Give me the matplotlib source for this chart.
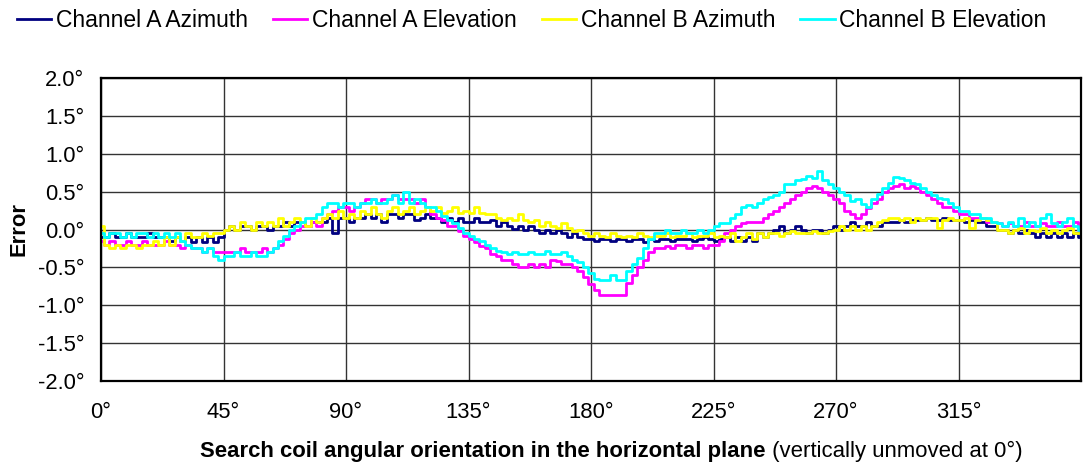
import numpy as np
import matplotlib
matplotlib.use("Agg")
import matplotlib.pyplot as plt

plt.rcParams['font.family'] = ['Liberation Sans', 'DejaVu Sans']

# orientation in degrees, one reading every 2 degrees
angles = np.arange(0, 361, 2)

a_azimuth = [
    -0.1, -0.1, -0.05, -0.1, -0.1, -0.05, -0.1, -0.1, -0.1, -0.05, -0.1, -0.1, -0.1, -0.15, -0.1, -0.15, -0.1, -0.17,
    -0.1, -0.17, -0.1, -0.17, -0.1,
    0.0, 0.05, 0.0, 0.05, 0.05, 0.0, 0.05, 0.05, 0.0,
    0.05, 0.05, 0.1, 0.05, 0.1,
    0.1, 0.05, 0.1, 0.1,
    0.1, 0.15, -0.05, 0.15, 0.15, 0.1, 0.15, 0.15,
    0.2, 0.15, 0.2, 0.1, 0.2, 0.2, 0.15, 0.2, 0.2, 0.12, 0.15, 0.2,
    0.15, 0.15, 0.1, 0.15, 0.1, 0.15, 0.1, 0.1, 0.15, 0.1, 0.1, 0.12, 0.05,
    0.1, 0.05, 0.01, 0.05, 0.0, 0.05, 0.0, -0.05, 0.0, -0.05, 0.0, -0.05, -0.1, -0.05, -0.1,
    -0.12, -0.12, -0.15, -0.12, -0.12, -0.15, -0.12, -0.12,
    -0.15, -0.12, -0.12, -0.17, -0.12, -0.15,
    -0.12, -0.12, -0.15, -0.12, -0.12, -0.12, -0.15, -0.12, -0.1, -0.12, -0.15, -0.12,
    -0.1, -0.15, -0.1, -0.15,
    -0.1, -0.15, -0.05, -0.1, -0.05,
    0.0, 0.05, -0.05, 0.0, 0.05, 0.0,
    -0.05, 0.0, 0.0, -0.05, 0.0,
    0.05, 0.0, 0.05, 0.1, 0.05,
    0.05, 0.1, 0.05, 0.05, 0.1, 0.1,
    0.1, 0.12, 0.1, 0.12, 0.12,
    0.12, 0.15, 0.12, 0.12, 0.15, 0.12, 0.12,
    0.12, 0.1, 0.12, 0.1, 0.1, 0.05, 0.05, 0.0,
    0.0, -0.05, 0.0, -0.05, 0.0, -0.05, -0.1, -0.05, -0.1, -0.05, -0.1, -0.05, -0.1, -0.05, -0.1,
]

a_elevation = [
    -0.15, -0.2, -0.15, -0.2, -0.2, -0.15, -0.2, -0.2, -0.15, -0.2, -0.2, -0.2, -0.15, -0.2, -0.2, -0.25, -0.2, -0.25,
    -0.25, -0.3, -0.25, -0.3, -0.3, -0.3, -0.3, -0.3, -0.25, -0.3, -0.3, -0.3, -0.25, -0.3,
    -0.25, -0.2, -0.12, -0.05, 0.0,
    0.05, 0.05, 0.1, 0.05,
    0.15, 0.2, 0.25, 0.3,
    0.3, 0.25, 0.3, 0.35,
    0.4, 0.4, 0.35, 0.4, 0.4, 0.45, 0.4, 0.4, 0.4, 0.35, 0.4, 0.3,
    0.2, 0.15, 0.12, 0.05, 0.05, -0.02, -0.08, -0.12, -0.17, -0.22, -0.25, -0.32, -0.35,
    -0.4, -0.4, -0.45, -0.5, -0.5, -0.45, -0.5, -0.45, -0.5, -0.4, -0.42, -0.45, -0.45, -0.5, -0.55,
    -0.63, -0.72, -0.8, -0.87, -0.87, -0.87, -0.87, -0.87,
    -0.7, -0.6, -0.5, -0.4, -0.3, -0.25,
    -0.25, -0.22, -0.25, -0.2, -0.2, -0.25, -0.2, -0.2, -0.25, -0.2, -0.2, -0.15,
    -0.05, 0.0, 0.05, 0.08,
    0.1, 0.1, 0.1, 0.15, 0.2,
    0.25, 0.3, 0.35, 0.4, 0.45, 0.5,
    0.55, 0.58, 0.55, 0.5, 0.45,
    0.4, 0.35, 0.25, 0.2, 0.15,
    0.2, 0.28, 0.35, 0.4, 0.5, 0.55,
    0.58, 0.6, 0.55, 0.58, 0.55,
    0.5, 0.45, 0.4, 0.35, 0.3, 0.3, 0.25,
    0.2, 0.2, 0.15, 0.15, 0.15, 0.1, 0.1, 0.08,
    0.05, 0.08, 0.05, 0.05, 0.1, 0.05, 0.05, 0.08, 0.05, 0.05, 0.1, 0.05, 0.05, 0.1, 0.0,
]

b_azimuth = [
    0.05, -0.2, -0.25, -0.2, -0.25, -0.2, -0.2, -0.25, -0.2, -0.2, -0.15, -0.2, -0.1, -0.2, -0.1, -0.15, -0.05, -0.1,
    -0.1, -0.05, -0.08, -0.05, -0.05,
    0.0, 0.05, 0.0, 0.1, 0.05, 0.0, 0.1, 0.05, 0.1,
    0.05, 0.15, 0.05, 0.1, 0.15,
    0.1, 0.05, 0.15, 0.1,
    0.15, 0.2, 0.15, 0.25, 0.15, 0.2, 0.15, 0.25,
    0.2, 0.3, 0.2, 0.15, 0.25, 0.3, 0.2, 0.25, 0.3, 0.2, 0.25, 0.3,
    0.25, 0.3, 0.22, 0.25, 0.3, 0.22, 0.25, 0.22, 0.3, 0.22, 0.2, 0.2, 0.15,
    0.12, 0.15, 0.12, 0.2, 0.12, 0.1, 0.12, 0.05, 0.1, 0.05, 0.02, 0.08, 0.02, -0.02, 0.0,
    -0.05, -0.08, -0.05, -0.08, -0.1, -0.05, -0.08, -0.1,
    -0.08, -0.1, -0.05, -0.08, -0.1, -0.08,
    -0.08, -0.05, -0.1, -0.08, -0.08, -0.05, -0.1, -0.08, -0.08, -0.05, -0.1, -0.08,
    -0.1, -0.05, -0.15, -0.1,
    -0.05, -0.12, -0.05, -0.1, -0.05,
    -0.05, -0.08, -0.05, -0.02, -0.05, -0.05,
    -0.05, -0.02, -0.05, -0.05, -0.02,
    0.0, 0.05, 0.0, 0.05, 0.0,
    0.05, 0.0, 0.05, 0.1, 0.12, 0.15,
    0.15, 0.12, 0.15, 0.1, 0.15,
    0.12, 0.15, 0.15, 0.02, 0.12, 0.15, 0.12,
    0.12, 0.15, 0.02, 0.12, 0.15, 0.12, 0.1, 0.0,
    0.0, -0.05, 0.0, 0.02, -0.05, 0.0, -0.02, 0.02, -0.05, 0.0, -0.05, 0.0, 0.02, -0.05, -0.05,
]

b_elevation = [
    -0.05, -0.1, -0.05, -0.05, -0.1, -0.05, -0.1, -0.05, -0.05, -0.1, -0.05, -0.1, -0.05, -0.1, -0.05, -0.15, -0.2, -0.25,
    -0.25, -0.3, -0.25, -0.35, -0.4,
    -0.35, -0.35, -0.3, -0.35, -0.35, -0.3, -0.35, -0.35, -0.3,
    -0.25, -0.15, -0.08, 0.0, 0.05,
    0.1, 0.15, 0.15, 0.2,
    0.3, 0.35, 0.35, 0.3, 0.35, 0.35, 0.3, 0.35,
    0.35, 0.4, 0.35, 0.35, 0.4, 0.45, 0.35, 0.5, 0.35, 0.4, 0.35, 0.3,
    0.3, 0.25, 0.18, 0.12, 0.08, 0.02, -0.05, -0.08, -0.12, -0.15, -0.2, -0.25, -0.28,
    -0.3, -0.32, -0.3, -0.32, -0.32, -0.3, -0.32, -0.32, -0.28, -0.32, -0.32, -0.3, -0.35, -0.4, -0.43,
    -0.5, -0.58, -0.65, -0.67, -0.67, -0.6, -0.67, -0.67,
    -0.55, -0.45, -0.37, -0.25, -0.12, -0.05,
    -0.05, 0.0, -0.05, -0.05, 0.0, -0.05, -0.05, 0.0, -0.05, 0.0, 0.05, 0.08,
    0.08, 0.15, 0.2, 0.3,
    0.32, 0.3, 0.35, 0.4, 0.43,
    0.45, 0.5, 0.6, 0.6, 0.65, 0.67,
    0.7, 0.68, 0.77, 0.65, 0.6,
    0.55, 0.5, 0.45, 0.38, 0.4,
    0.34, 0.3, 0.4, 0.47, 0.55, 0.62,
    0.69, 0.68, 0.65, 0.62, 0.6,
    0.55, 0.5, 0.45, 0.42, 0.4, 0.35, 0.3,
    0.25, 0.25, 0.2, 0.2, 0.15, 0.15, 0.1, 0.08,
    0.05, 0.1, 0.05, 0.15, 0.05, 0.1, 0.05, 0.15, 0.2, 0.08, 0.05, 0.1, 0.15, 0.05, 0.0,
]

series = [
    ('Channel A Azimuth', a_azimuth, '#000080'),
    ('Channel A Elevation', a_elevation, '#FF00FF'),
    ('Channel B Azimuth', b_azimuth, '#FFFF00'),
    ('Channel B Elevation', b_elevation, '#00FFFF'),
]

x_ticks = [0, 45, 90, 135, 180, 225, 270, 315]
y_ticks = [-2.0, -1.5, -1.0, -0.5, 0.0, 0.5, 1.0, 1.5, 2.0]

fig = plt.figure(figsize=(10.85, 4.70), dpi=100)
ax = fig.add_axes([101 / 1085, 1 - 381 / 470, 980 / 1085, 303 / 470])

for name, vals, col in series:
    ax.plot(angles, vals, color=col, lw=2.0, drawstyle='steps-mid', label=name)

ax.set_xlim(0, 360)
ax.set_ylim(-2, 2)
ax.set_xticks(list(range(0, 361, 45)))
ax.set_xticklabels([f'{t}°' for t in x_ticks] + [''])
ax.set_yticks(y_ticks)
ax.set_yticklabels([f'{t:.1f}°' for t in y_ticks])
ax.grid(True, color='#333333', lw=1)
ax.set_axisbelow(True)
for s in ax.spines.values():
    s.set_color('black')
    s.set_linewidth(1.6)
ax.tick_params(axis='both', length=0, labelsize=15.8, colors='black')
ax.tick_params(axis='x', pad=15)
ax.tick_params(axis='y', pad=12)
ax.set_ylabel('Error', fontsize=15.8, fontweight='bold', labelpad=6)

t1 = fig.text(200 / 1085, 1 - 452 / 470, 'Search coil angular orientation in the horizontal plane',
              fontsize=15.9, fontweight='bold', ha='left', va='center')
ax.annotate(' (vertically unmoved at 0°)', xy=(1, 0), xycoords=t1, va='bottom', ha='left',
            fontsize=15.9, annotation_clip=False)

fig.legend(loc='upper center', bbox_to_anchor=(0.49, 1.025), ncol=4, frameon=False,
           fontsize=16.5, handlelength=1.5, handletextpad=0.2, columnspacing=1.1)

fig.savefig('out.png', dpi=100)
